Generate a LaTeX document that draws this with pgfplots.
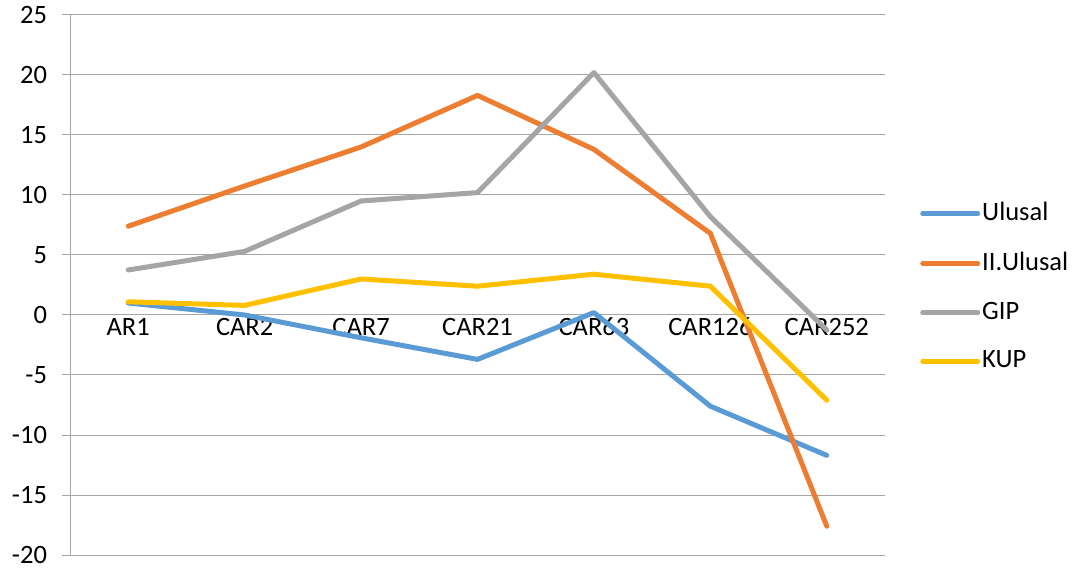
\documentclass[border=0pt]{standalone}
\usepackage{pgfplots}
\pgfplotsset{compat=1.18}
\usepackage{fontspec}
\setmainfont{Carlito}
\definecolor{cblue}{HTML}{5B9BD5}
\definecolor{corange}{HTML}{ED7D31}
\definecolor{cgray}{HTML}{A5A5A5}
\definecolor{cyellow}{HTML}{FFC000}
\definecolor{gridc}{HTML}{A6A6A6}
\pgfplotsset{layers/mylayers/.define layer set={axis background,axis grid,axis ticks,axis lines,axis tick labels,main,axis descriptions,axis foreground}{}}
\begin{document}
\begin{tikzpicture}
\fontsize{26.5bp}{31bp}\selectfont
\begin{axis}[
  set layers=mylayers,
  at={(70bp,16bp)}, anchor=south west,
  scale only axis, width=815bp, height=540bp,
  xmin=-0.5, xmax=6.5, ymin=-20, ymax=25,
  axis x line=middle, axis y line=left,
  axis line style={gridc, line width=1pt, -},
  xtick={0,...,6},
  xticklabels={AR1,CAR2,CAR7,CAR21,CAR63,CAR126,CAR252},
  major x tick style={draw=none},
  extra x ticks={0.5,1.5,...,6.5},
  extra x tick labels={},
  extra x tick style={major x tick style={gridc, line width=1pt}, major tick length=7bp, xtick align=outside},
  ytick={-20,-15,...,25},
  yticklabels={-20,-15,-10,-5,0,5,10,15,20,25},
  ytick align=outside,
  major y tick style={gridc, line width=1pt},
  major tick length=8bp,
  ymajorgrids, grid style={gridc, line width=1pt},
  tick label style={font=\fontsize{26.5bp}{31bp}\selectfont, text=black},
  xticklabel style={yshift=10bp},
  yticklabel style={xshift=-6bp},
  legend style={draw=none, at={(1.043,0.496)}, anchor=west, fill=none,
    font=\fontsize{26.5bp}{31bp}\selectfont, row sep=23.5bp, inner sep=0pt},
  legend cell align=left,
  legend image code/.code={\draw[#1, line width=5bp, line cap=round] (0bp,0bp) -- (55bp,0bp);},
  every axis plot/.append style={line width=5bp, line join=round, line cap=round},
  clip=false,
]
\addplot[cblue] coordinates {(0,1.0) (1,0.0) (2,-1.9) (3,-3.7) (4,0.2) (5,-7.6) (6,-11.7)};
\addlegendentry{Ulusal}
\addplot[corange] coordinates {(0,7.4) (1,10.75) (2,14.0) (3,18.3) (4,13.8) (5,6.8) (6,-17.6)};
\addlegendentry{II.Ulusal}
\addplot[cgray] coordinates {(0,3.75) (1,5.3) (2,9.5) (3,10.2) (4,20.2) (5,8.2) (6,-1.25)};
\addlegendentry{GIP}
\addplot[cyellow] coordinates {(0,1.1) (1,0.8) (2,3.0) (3,2.4) (4,3.4) (5,2.4) (6,-7.1)};
\addlegendentry{KUP}
\end{axis}
\pgfresetboundingbox
\path (0,0) rectangle (1078bp,571bp);
\end{tikzpicture}
\end{document}
